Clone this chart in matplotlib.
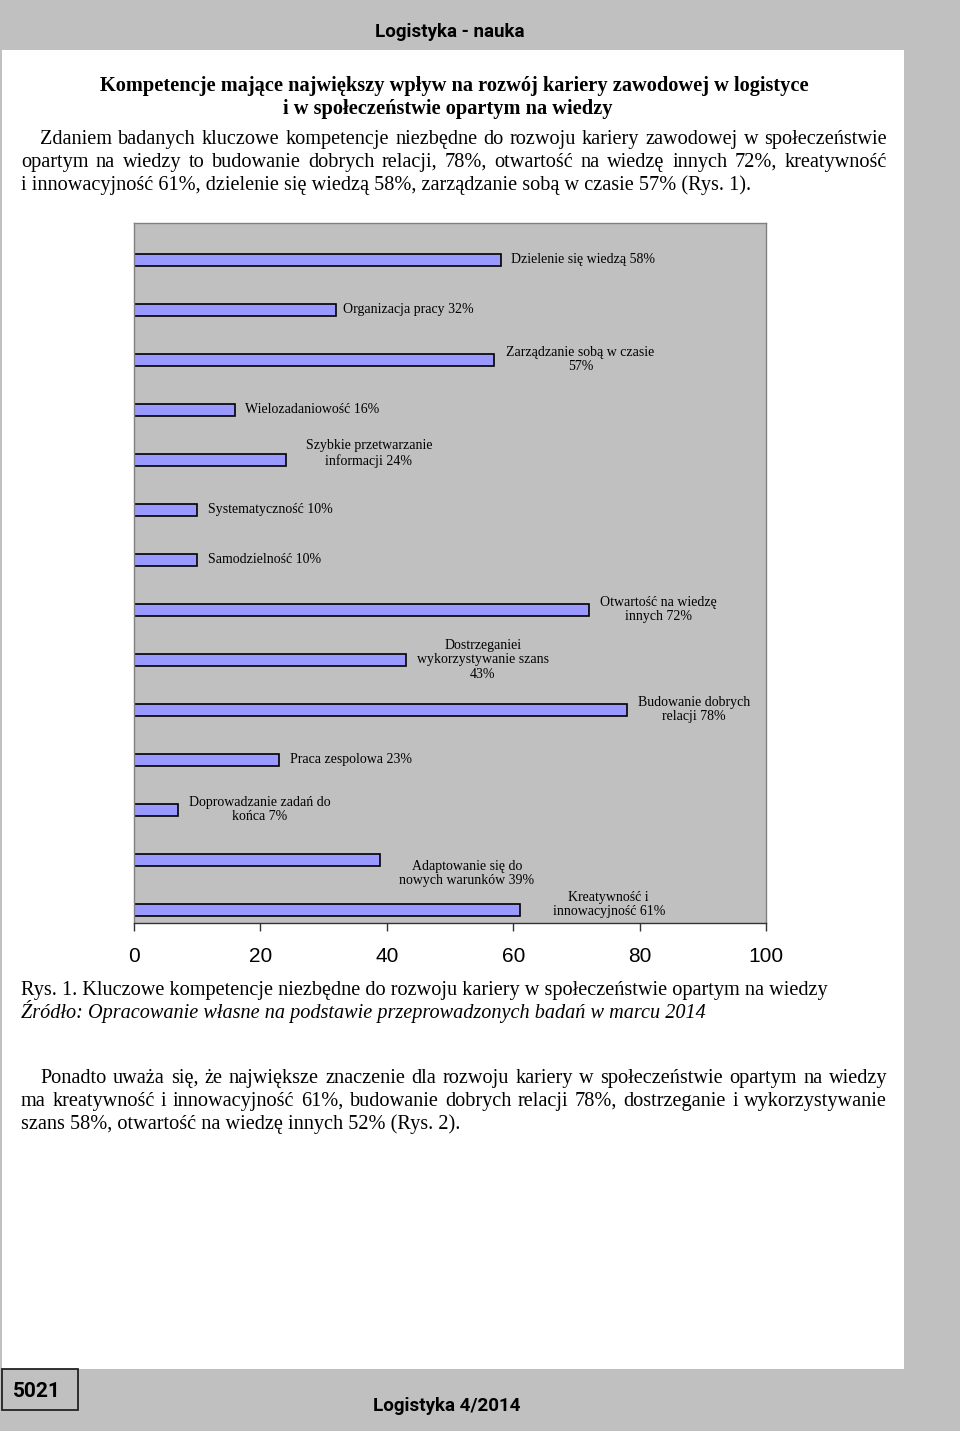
import numpy as np
import matplotlib
matplotlib.use('Agg')
import matplotlib.pyplot as plt
from matplotlib.patches import Rectangle

# chart data (top to bottom as drawn)
categories = [
    'Dzielenie się wiedzą', 'Organizacja pracy', 'Zarządzanie sobą w czasie',
    'Wielozadaniowość', 'Szybkie przetwarzanie informacji', 'Systematyczność',
    'Samodzielność', 'Otwartość na wiedzę innych',
    'Dostrzeganiei wykorzystywanie szans', 'Budowanie dobrych relacji',
    'Praca zespolowa', 'Doprowadzanie zadań do końca',
    'Adaptowanie się do nowych warunków', 'Kreatywność i innowacyjność',
]
values = [58, 32, 57, 16, 24, 10, 10, 72, 43, 78, 23, 7, 39, 61]
bar_labels = [
    'Dzielenie się wiedzą 58%', 'Organizacja pracy 32%',
    'Zarządzanie sobą w czasie\n57%', 'Wielozadaniowość 16%',
    'Szybkie przetwarzanie\ninformacji 24%', 'Systematyczność 10%',
    'Samodzielność 10%', 'Otwartość na wiedzę\ninnych 72%',
    'Dostrzeganiei\nwykorzystywanie szans\n43%', 'Budowanie dobrych\nrelacji 78%',
    'Praca zespolowa 23%', 'Doprowadzanie zadań do\nkońca 7%',
    'Adaptowanie się do\nnowych warunków 39%', 'Kreatywność i\ninnowacyjność 61%',
]
x_ticks = [0, 20, 40, 60, 80, 100]

# page text
header = 'Logistyka - nauka'
title = ['Kompetencje mające największy wpływ na rozwój kariery zawodowej w logistyce',
         'i w społeczeństwie opartym na wiedzy']
para1 = ['Zdaniem badanych kluczowe kompetencje niezbędne do rozwoju kariery zawodowej w społeczeństwie',
         'opartym na wiedzy to budowanie dobrych relacji, 78%, otwartość na wiedzę innych 72%, kreatywność',
         'i innowacyjność 61%, dzielenie się wiedzą 58%, zarządzanie sobą w czasie 57% (Rys. 1).']
caption = 'Rys. 1. Kluczowe kompetencje niezbędne do rozwoju kariery w społeczeństwie opartym na wiedzy'
source = 'Źródło: Opracowanie własne na podstawie przeprowadzonych badań w marcu 2014'
para2 = ['Ponadto uważa się, że największe znaczenie dla rozwoju kariery w społeczeństwie opartym na wiedzy',
         'ma kreatywność i innowacyjność 61%, budowanie dobrych relacji 78%, dostrzeganie i wykorzystywanie',
         'szans 58%, otwartość na wiedzę innych 52% (Rys. 2).']
page_no = '5021'
footer = 'Logistyka 4/2014'

W, H = 960, 1431
GRAY = '#c0c0c0'
SERIF = ['Liberation Serif', 'DejaVu Serif']
NARROW = dict(family='Roboto', fontweight='bold')

fig = plt.figure(figsize=(W / 100, H / 100), dpi=100, facecolor=GRAY)


def fx(x):
    return x / W


def fy(y):
    return 1 - y / H


# white page
fig.patches.append(Rectangle((fx(2), fy(1369)), fx(904) - fx(2), fy(50) - fy(1369),
                             transform=fig.transFigure, facecolor='white',
                             edgecolor='none', zorder=-10))
# page number box
fig.patches.append(Rectangle((fx(2), fy(1410)), fx(78) - fx(2), fy(1369) - fy(1410),
                             transform=fig.transFigure, facecolor=GRAY,
                             edgecolor='#222222', linewidth=1.3, zorder=-5))

renderer = fig.canvas.get_renderer()


def justify(text, y, x0, x1, **kw):
    words = text.split(' ')
    objs = [fig.text(0, fy(y), w, va='baseline', **kw) for w in words]
    widths = [o.get_window_extent(renderer).width for o in objs]
    gap = (x1 - x0 - sum(widths)) / (len(words) - 1)
    x = x0
    for o, w in zip(objs, widths):
        o.set_x(fx(x))
        x += w + gap


fig.text(fx(450), fy(37), header, ha='center', va='baseline', fontsize=13.5, **NARROW)

body = dict(fontsize=14.6, family=SERIF, color='black')
fig.text(fx(454), fy(91), title[0], ha='center', va='baseline', fontsize=14.7,
         fontweight='bold', family=SERIF)
fig.text(fx(448), fy(114), title[1], ha='center', va='baseline', fontsize=14.7,
         fontweight='bold', family=SERIF)

justify(para1[0], 144, 40, 887, **body)
justify(para1[1], 167, 21, 887, **body)
fig.text(fx(21), fy(190), para1[2], va='baseline', **body)

fig.text(fx(21), fy(995), caption, va='baseline', **body)
fig.text(fx(21), fy(1018), source, va='baseline', style='italic', **body)

justify(para2[0], 1083, 40, 887, **body)
justify(para2[1], 1106, 21, 887, **body)
fig.text(fx(21), fy(1129), para2[2], va='baseline', **body)

fig.text(fx(37), fy(1397), page_no, ha='center', va='baseline', fontsize=15, **NARROW)
fig.text(fx(447), fy(1411), footer, ha='center', va='baseline', fontsize=13.5, **NARROW)

# chart
ax = fig.add_axes([fx(134), fy(923), fx(766) - fx(134), fy(223) - fy(923)])
ax.set_facecolor(GRAY)
ypos = np.arange(len(values)) + 0.23
ax.barh(ypos, values, height=0.24, color='#9999ff', edgecolor='black', linewidth=1.2)
ax.set_xlim(0, 100)
ax.set_ylim(len(values) - 0.5, -0.5)
ax.set_yticks([])
ax.set_xticks(x_ticks)
ax.set_xticklabels([str(t) for t in x_ticks], fontsize=15, family='Liberation Sans')
ax.tick_params(axis='x', direction='out', length=6, width=1, pad=11, color='#333333')
for side in ['top', 'right', 'left']:
    ax.spines[side].set_color('#808080')
    ax.spines[side].set_linewidth(1)
ax.spines['bottom'].set_color('#333333')
ax.spines['bottom'].set_linewidth(1)

# label nudges in pixels (right, down)
nudges = [(10, 0), (7, 0), (12, 0), (10, 0), (20, -6), (11, 0), (11, 0),
          (11, 0), (11, 0), (11, 0), (11, 0), (11, 0), (19, 14), (33, -5)]
for v, y, lab, (dx, dy) in zip(values, ypos, bar_labels, nudges):
    ax.annotate(lab, xy=(v, y), xytext=(dx, -dy), textcoords='offset pixels',
                ha='left', va='center', multialignment='center',
                fontsize=10, family=SERIF, linespacing=1.15)

fig.savefig('out.png', dpi=100, facecolor=GRAY)
